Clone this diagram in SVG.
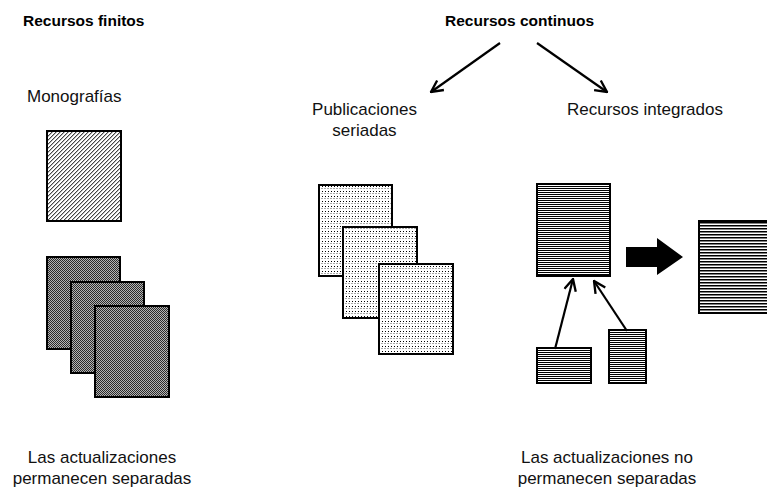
<svg xmlns="http://www.w3.org/2000/svg" width="767" height="487" viewBox="0 0 767 487">
<style>
.h{font-family:"Liberation Sans",Arial,sans-serif;font-weight:bold;font-size:15.5px;fill:#000}
.t{font-family:"Liberation Sans",Arial,sans-serif;font-size:17px;fill:#111}
.box{stroke:#000;stroke-width:2}
.con{stroke:#000;stroke-width:2.2;fill:none}
</style>
<defs>
<pattern id="pDiag" width="4" height="4" patternUnits="userSpaceOnUse">
<rect width="4" height="4" fill="#fff"/>
<rect x="0" y="3" width="1" height="1" fill="#444"/><rect x="1" y="2" width="1" height="1" fill="#444"/><rect x="2" y="1" width="1" height="1" fill="#444"/><rect x="3" y="0" width="1" height="1" fill="#444"/>
<rect x="1" y="3" width="1" height="1" fill="#bbb"/><rect x="2" y="2" width="1" height="1" fill="#bbb"/><rect x="3" y="1" width="1" height="1" fill="#bbb"/><rect x="0" y="0" width="1" height="1" fill="#bbb"/>
</pattern>
<pattern id="pCheck" width="2" height="2" patternUnits="userSpaceOnUse">
<rect width="2" height="2" fill="#b4b4b4"/>
<rect x="0" y="0" width="1" height="1" fill="#2a2a2a"/><rect x="1" y="1" width="1" height="1" fill="#2a2a2a"/>
</pattern>
<pattern id="pDots" width="3" height="5" patternUnits="userSpaceOnUse">
<rect width="3" height="5" fill="#fff"/>
<rect x="1" y="1" width="1" height="1" fill="#000"/>
<rect x="0" y="3" width="2" height="1" fill="#aaa"/>
</pattern>
<pattern id="pLines" width="2" height="2" patternUnits="userSpaceOnUse">
<rect width="2" height="2" fill="#fff"/>
<rect x="0" y="0" width="2" height="1" fill="#000"/>
</pattern>
<pattern id="pLines3" width="3" height="3" patternUnits="userSpaceOnUse">
<rect width="3" height="3" fill="#fff"/>
<rect x="0" y="0" width="3" height="1.5" fill="#000"/>
</pattern>
<marker id="ah" viewBox="0 0 12 12" refX="11" refY="6" markerWidth="14" markerHeight="14" markerUnits="userSpaceOnUse" orient="auto">
<path d="M1,1 L11,6 L1,11" fill="none" stroke="#000" stroke-width="2"/>
</marker>
</defs>

<g id="title-finitos"><text class="h" x="23" y="26">Recursos finitos</text></g>
<g id="title-continuos"><text class="h" x="445" y="26">Recursos continuos</text></g>
<g id="label-monografias"><text class="t" x="27" y="102">Monografías</text></g>
<g id="label-publicaciones"><text class="t" x="364.5" y="115" text-anchor="middle">Publicaciones</text><text class="t" x="364.5" y="136" text-anchor="middle">seriadas</text></g>
<g id="label-integrados"><text class="t" x="567" y="115">Recursos integrados</text></g>

<g id="monografia"><rect class="box" x="47" y="131" width="74" height="90" fill="url(#pDiag)"/></g>
<g id="monografia-actualizaciones">
<rect class="box" x="47" y="257" width="73" height="92" fill="url(#pCheck)"/>
<rect class="box" x="71" y="282" width="73" height="91" fill="url(#pCheck)"/>
<rect class="box" x="95" y="306" width="74" height="91" fill="url(#pCheck)"/>
</g>
<g id="publicaciones-seriadas">
<rect class="box" x="319" y="185" width="73" height="91" fill="url(#pDots)"/>
<rect class="box" x="343" y="227" width="74" height="91" fill="url(#pDots)"/>
<rect class="box" x="379" y="264" width="74" height="90" fill="url(#pDots)"/>
</g>
<g id="recurso-integrado"><rect class="box" x="537" y="184" width="73" height="92" fill="url(#pLines)"/></g>
<g id="actualizacion-1"><rect class="box" x="537" y="348" width="54" height="35" fill="url(#pLines)"/></g>
<g id="actualizacion-2"><rect class="box" x="609" y="330" width="37" height="53" fill="url(#pLines)"/></g>
<g id="recurso-integrado-actualizado"><rect class="box" x="699" y="221" width="74" height="92" fill="url(#pLines3)"/></g>
<g id="flecha-bloque"><polygon points="626,247 657,247 657,238 683,257 657,275 657,267 626,267" fill="#000"/></g>

<g id="connectors">
<line class="con" x1="500" y1="43" x2="431" y2="92" marker-end="url(#ah)"/>
<line class="con" x1="537" y1="43" x2="607" y2="92" marker-end="url(#ah)"/>
<line class="con" x1="555" y1="349" x2="573" y2="279" marker-end="url(#ah)"/>
<line class="con" x1="627" y1="331" x2="594" y2="281" marker-end="url(#ah)"/>
</g>

<g id="nota-finitos"><text class="t" x="102" y="463" text-anchor="middle">Las actualizaciones</text><text class="t" x="102" y="484" text-anchor="middle">permanecen separadas</text></g>
<g id="nota-continuos"><text class="t" x="607" y="463" text-anchor="middle">Las actualizaciones no</text><text class="t" x="607" y="484" text-anchor="middle">permanecen separadas</text></g>
</svg>
